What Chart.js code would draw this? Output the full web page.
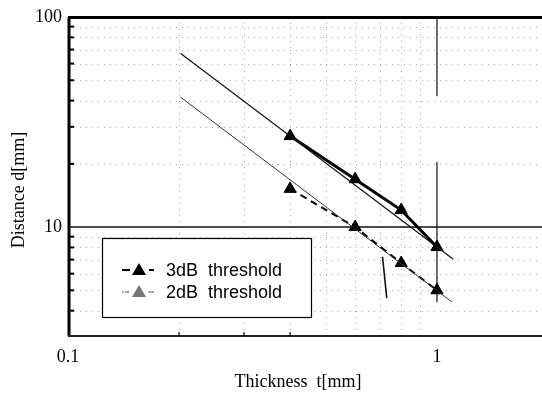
<!DOCTYPE html>
<html>
<head>
<meta charset="utf-8">
<script src="https://cdn.jsdelivr.net/npm/chart.js@4/dist/chart.umd.min.js"></script>
<style>
html,body{margin:0;padding:0;background:#fff;}
#c{display:block;}
</style>
</head>
<body>
<canvas id="c" width="542" height="394"></canvas>
<script>
// ---- data ----
const thickness = [0.4, 0.6, 0.8, 1.0];
const dist3dB = [27.1, 16.9, 12.05, 8.03];
const dist2dB = [15.2, 10.0, 6.74, 5.0];
const fit3dBX = [0.202, 1.105];
const fit3dBY = [67.1, 7.05];
const fit2dBX = [0.202, 1.098];
const fit2dBY = [41.5, 4.40];
const markX = [0.712, 0.731];
const markY = [7.22, 4.59];
const xMajorTicks = [0.1, 1];
const yMajorTicks = [10, 100];
const xMinorGrid = [0.2, 0.3, 0.4, 0.5, 0.6, 0.7, 0.8, 0.9];
const yMinorGrid = [4, 5, 6, 7, 8, 9, 20, 30, 40, 50, 60, 70, 80, 90];
const xBottomTicks = [0.2, 0.3, 0.4];
const refY = 10;
const refX = 1;
const refXSegments = [[100, 42], [20.4, 4.4]];
const seriesLabels = ['3dB  threshold', '2dB  threshold'];
const xTitle = 'Thickness  t[mm]';
const yTitle = 'Distance d[mm]';

const pts = (xs, ys) => xs.map((x, i) => ({x: x, y: ys[i]}));

const serif = '"Liberation Serif", "DejaVu Serif", serif';
const sans = '"Liberation Sans", Arial, sans-serif';

const decor = {
  id: 'decor',
  beforeDatasetsDraw(chart) {
    const {ctx, chartArea: a, scales: {x, y}} = chart;
    ctx.save();
    // dotted grid
    ctx.strokeStyle = '#a8a8a8';
    ctx.lineWidth = 1;
    ctx.setLineDash([1, 5]);
    xMinorGrid.forEach(v => {
      const px = Math.round(x.getPixelForValue(v)) + 0.5;
      ctx.beginPath(); ctx.moveTo(px, a.top); ctx.lineTo(px, a.bottom); ctx.stroke();
    });
    yMinorGrid.forEach(v => {
      const py = Math.round(y.getPixelForValue(v)) + 0.5;
      ctx.beginPath(); ctx.moveTo(a.left, py); ctx.lineTo(a.right, py); ctx.stroke();
    });
    ctx.setLineDash([]);
    // solid reference lines
    ctx.strokeStyle = '#111';
    ctx.lineWidth = 1.5;
    const py10 = y.getPixelForValue(refY);
    ctx.beginPath(); ctx.moveTo(a.left, py10); ctx.lineTo(a.right, py10); ctx.stroke();
    ctx.lineWidth = 1.2;
    const px1 = x.getPixelForValue(refX);
    refXSegments.forEach(s => {
      ctx.beginPath();
      ctx.moveTo(px1, y.getPixelForValue(s[0]));
      ctx.lineTo(px1, y.getPixelForValue(s[1]));
      ctx.stroke();
    });
    ctx.restore();
  },
  afterDraw(chart) {
    const {ctx, chartArea: a, scales: {x, y}} = chart;
    ctx.save();
    // left axis (thick)
    ctx.strokeStyle = '#000';
    ctx.lineWidth = 3;
    ctx.beginPath(); ctx.moveTo(a.left + 1, a.top); ctx.lineTo(a.left + 1, a.bottom); ctx.stroke();
    // top border
    ctx.beginPath(); ctx.moveTo(a.left, a.top + 0.5); ctx.lineTo(a.right, a.top + 0.5); ctx.stroke();
    // bottom axis
    ctx.strokeStyle = '#222';
    ctx.lineWidth = 2;
    ctx.beginPath(); ctx.moveTo(a.left, a.bottom); ctx.lineTo(a.right, a.bottom); ctx.stroke();
    // left inward ticks
    ctx.lineWidth = 2;
    ctx.strokeStyle = '#000';
    yMinorGrid.forEach(v => {
      const py = y.getPixelForValue(v);
      ctx.beginPath(); ctx.moveTo(a.left, py); ctx.lineTo(a.left + 6, py); ctx.stroke();
    });
    // bottom ticks
    ctx.lineWidth = 1.2;
    xBottomTicks.forEach(v => {
      const px = x.getPixelForValue(v);
      ctx.beginPath(); ctx.moveTo(px, a.bottom); ctx.lineTo(px, a.bottom - 4); ctx.stroke();
    });
    // axis titles
    ctx.fillStyle = '#000';
    ctx.font = '18px ' + serif;
    ctx.textAlign = 'center';
    ctx.textBaseline = 'middle';
    ctx.fillText(xTitle, 298, 382);
    ctx.save();
    ctx.translate(19, 190);
    ctx.rotate(-Math.PI / 2);
    ctx.fillText(yTitle, 0, 0);
    ctx.restore();
    // legend box
    ctx.strokeStyle = '#000';
    ctx.lineWidth = 1.2;
    ctx.fillStyle = '#fff';
    ctx.fillRect(102, 238, 209, 79);
    ctx.strokeRect(102.5, 238.5, 209, 79);
    const rows = [
      {y: 270, color: '#000', dash: [4, 3], w: 2},
      {y: 292, color: '#777', dash: [2, 3], w: 1.2}
    ];
    rows.forEach((r, i) => {
      ctx.strokeStyle = r.color;
      ctx.lineWidth = r.w;
      ctx.setLineDash(r.dash);
      ctx.beginPath(); ctx.moveTo(122, r.y); ctx.lineTo(156, r.y); ctx.stroke();
      ctx.setLineDash([]);
      ctx.fillStyle = '#fff';
      ctx.fillRect(130, r.y - 7, 18, 14);
      ctx.strokeStyle = r.color;
      ctx.beginPath(); ctx.moveTo(125, r.y); ctx.lineTo(129, r.y); ctx.stroke();
      ctx.beginPath(); ctx.moveTo(149, r.y); ctx.lineTo(153, r.y); ctx.stroke();
      ctx.fillStyle = r.color;
      ctx.beginPath();
      ctx.moveTo(139, r.y - 7);
      ctx.lineTo(146, r.y + 5);
      ctx.lineTo(132, r.y + 5);
      ctx.closePath();
      ctx.fill();
      ctx.fillStyle = '#000';
      ctx.font = '18px ' + sans;
      ctx.textAlign = 'left';
      ctx.textBaseline = 'middle';
      ctx.fillText(seriesLabels[i], 166, r.y + 1);
    });
    ctx.restore();
  }
};

new Chart(document.getElementById('c'), {
  type: 'scatter',
  data: {
    datasets: [
      {label: 'fit 3dB', data: pts(fit3dBX, fit3dBY), showLine: true, borderColor: '#111', borderWidth: 1.2, pointRadius: 0},
      {label: 'fit 2dB', data: pts(fit2dBX, fit2dBY), showLine: true, borderColor: '#333', borderWidth: 1, pointRadius: 0},
      {label: seriesLabels[0], data: pts(thickness, dist3dB), showLine: true, borderColor: '#000', borderWidth: 3,
        pointStyle: 'triangle', pointRadius: 7, pointBackgroundColor: '#000', pointBorderColor: '#000', pointBorderWidth: 1},
      {label: seriesLabels[1], data: pts(thickness, dist2dB), showLine: true, borderColor: '#000', borderWidth: 2, borderDash: [7, 5],
        pointStyle: 'triangle', pointRadius: 7, pointBackgroundColor: '#000', pointBorderColor: '#000', pointBorderWidth: 1},
      {label: 'mark', data: pts(markX, markY), showLine: true, borderColor: '#111', borderWidth: 1.6, pointRadius: 0}
    ]
  },
  options: {
    responsive: false,
    animation: false,
    devicePixelRatio: 1,
    layout: {autoPadding: false, padding: {top: 17, right: 0, left: 0, bottom: 0}},
    plugins: {legend: {display: false}, tooltip: {enabled: false}},
    scales: {
      x: {
        type: 'logarithmic', min: 0.1, max: 1.926,
        grid: {display: false, drawTicks: false},
        border: {display: false},
        afterBuildTicks: s => { s.ticks = xMajorTicks.map(v => ({value: v})); },
        afterFit: s => { s.height = 58; },
        ticks: {
          padding: 10, color: '#000', font: {family: serif, size: 18},
          maxRotation: 0, autoSkip: false,
          callback: v => String(v)
        }
      },
      y: {
        type: 'logarithmic', min: 3.03, max: 100,
        grid: {display: false, drawTicks: false},
        border: {display: false},
        afterBuildTicks: s => { s.ticks = yMajorTicks.map(v => ({value: v})); },
        afterFit: s => { s.width = 68; },
        ticks: {
          padding: 6, color: '#000', font: {family: serif, size: 18},
          autoSkip: false,
          callback: v => String(v)
        }
      }
    }
  },
  plugins: [decor]
});
</script>
</body>
</html>
